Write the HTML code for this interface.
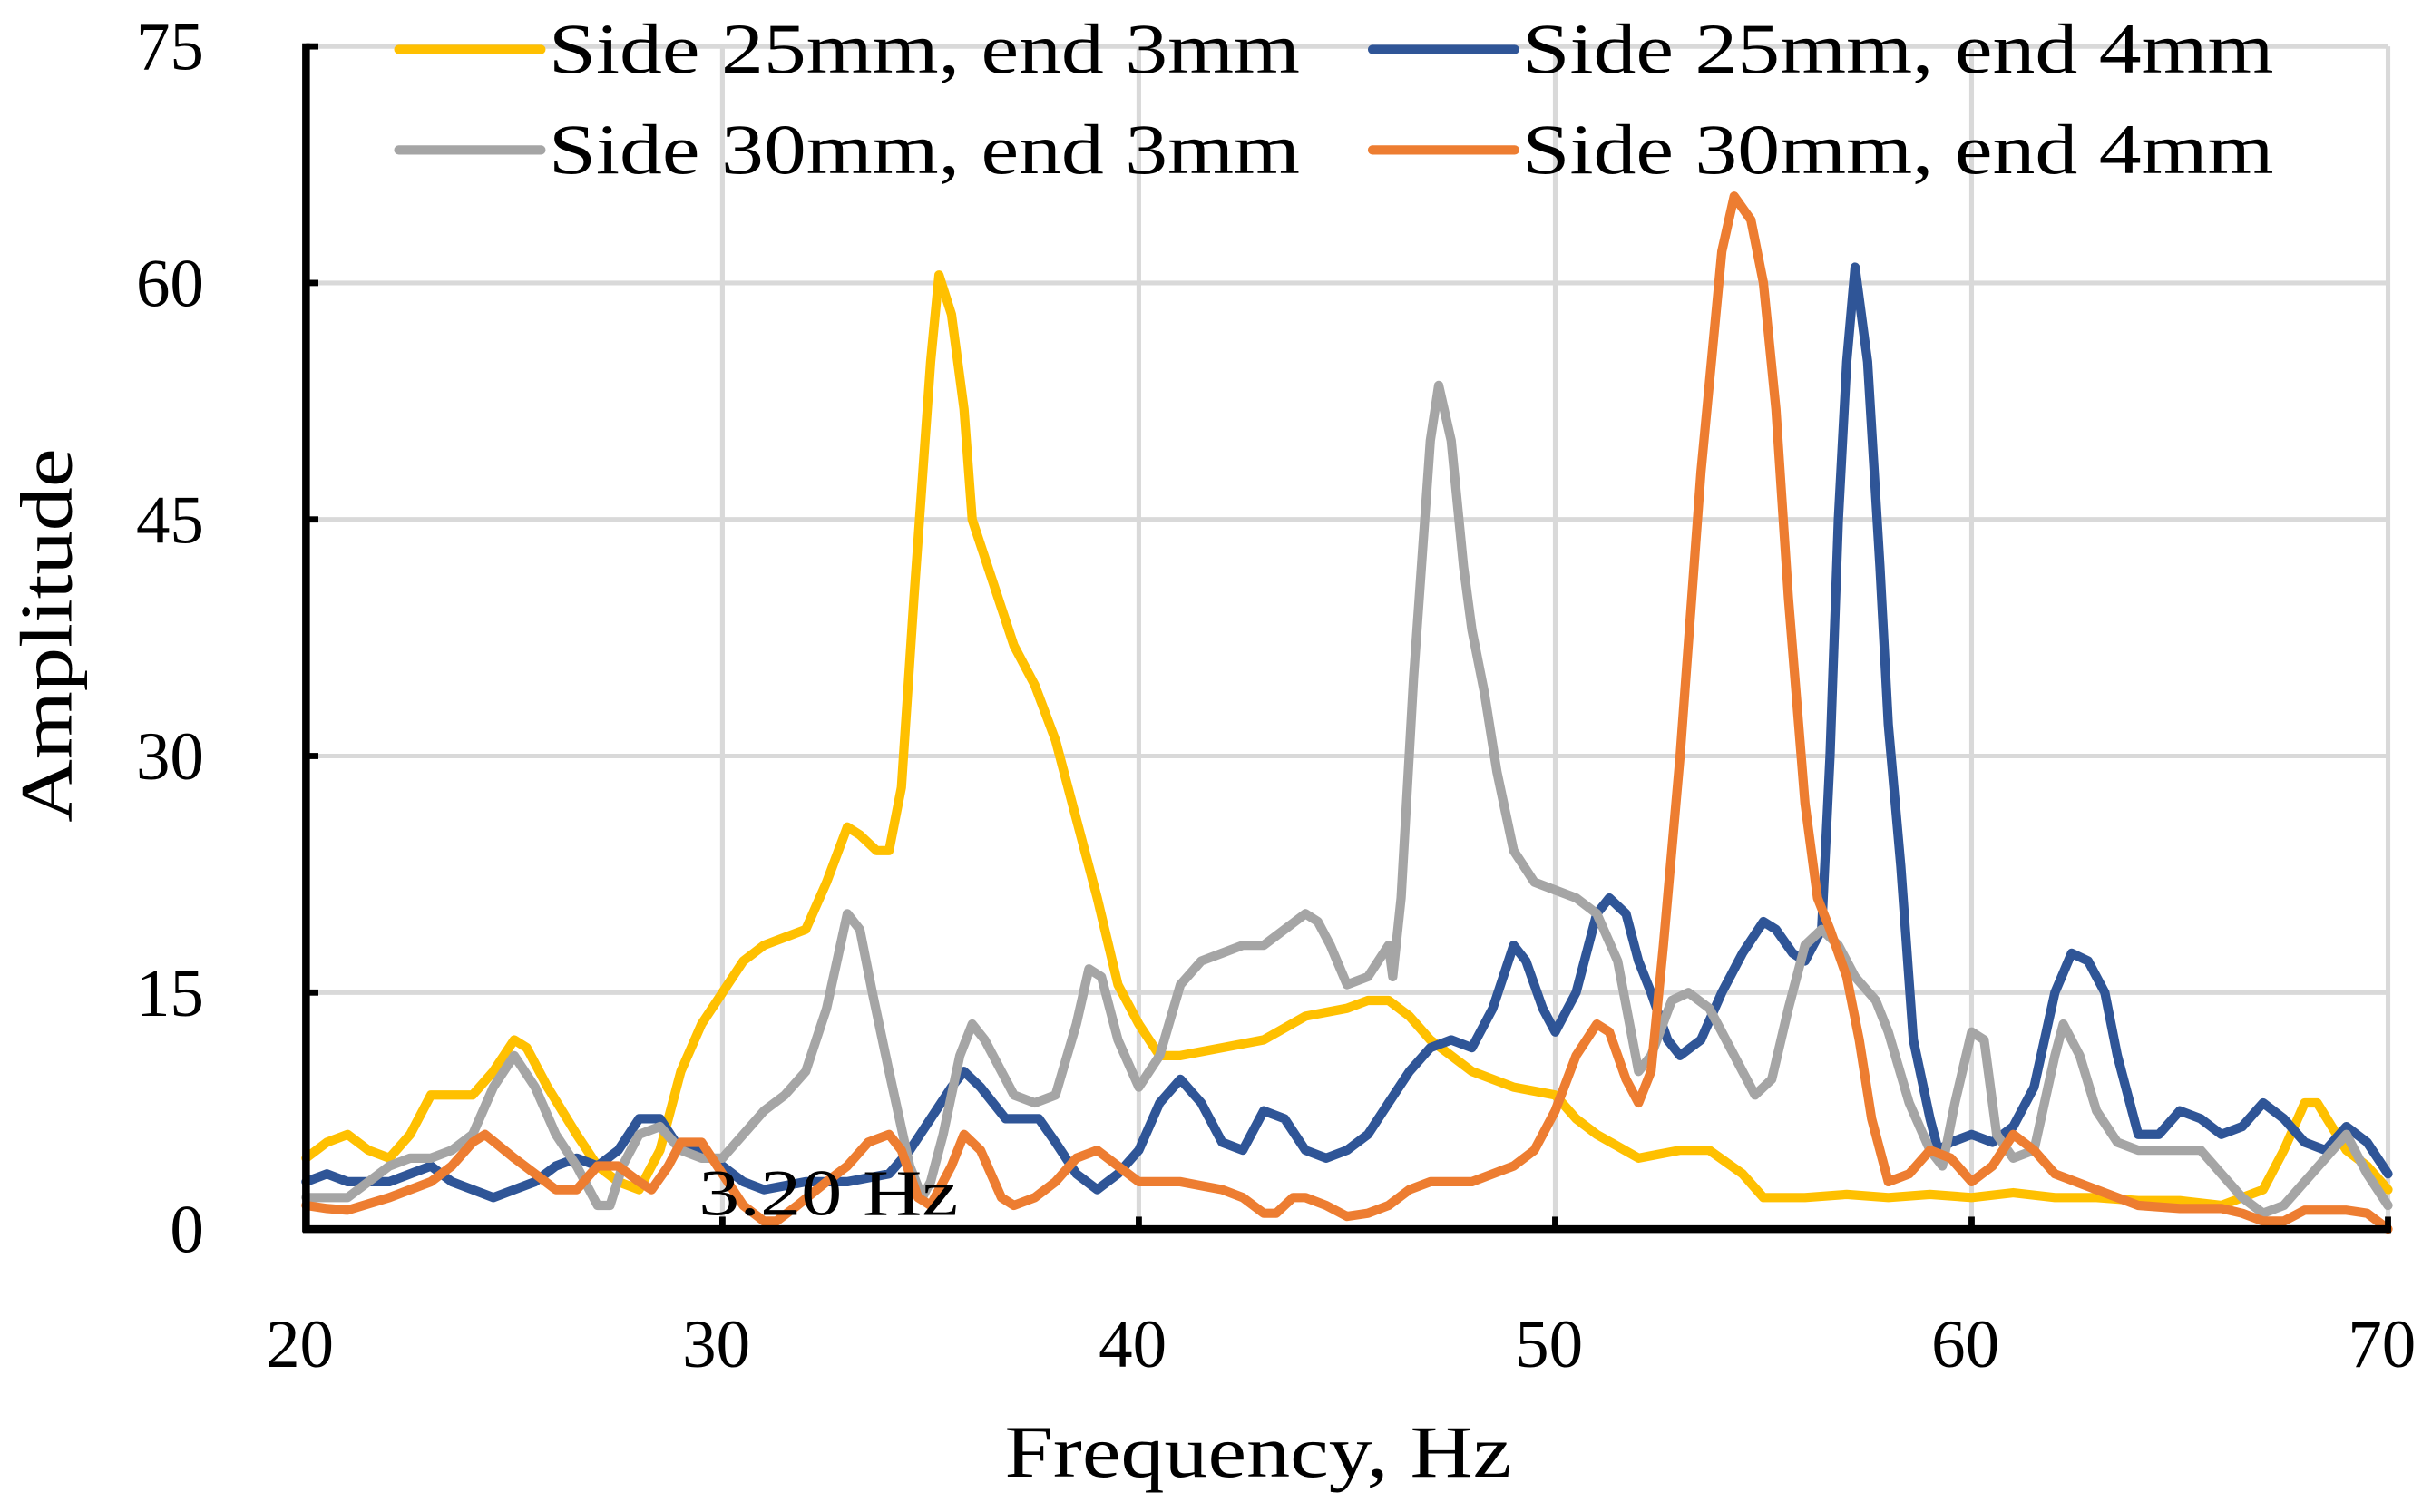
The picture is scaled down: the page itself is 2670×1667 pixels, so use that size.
<!DOCTYPE html>
<html><head><meta charset="utf-8"><style>
html,body{margin:0;padding:0;background:#fff;}
svg{display:block;}
text{font-family:"Liberation Serif",serif;fill:#000;}
</style></head><body>
<svg id="chart" width="2670" height="1667" viewBox="0 0 1567 978" preserveAspectRatio="none" xmlns="http://www.w3.org/2000/svg">
<g id="grid"></g>
<g id="series"></g>
<g id="axes"></g>
<text x="452" y="786" font-size="42" textLength="168" lengthAdjust="spacingAndGlyphs">3.20 Hz</text>
<text x="650" y="955" font-size="48" textLength="328" lengthAdjust="spacingAndGlyphs">Frequency, Hz</text>
<text transform="translate(46,532) rotate(-90)" font-size="48" textLength="242" lengthAdjust="spacingAndGlyphs">Amplitude</text>
<g id="legend"></g>
</svg>
<script>
const xTicks=[20,30,40,50,60,70];
const yTicks=[0,15,30,45,60,75];
const seriesNames=["Side 25mm, end 3mm","Side 25mm, end 4mm","Side 30mm, end 3mm","Side 30mm, end 4mm"];
const fY=[20,20.5,21,21.5,22,22.5,23,23.5,24,24.5,25,25.3,25.8,26.5,27,27.5,28,28.5,29,29.5,30,30.5,31,31.5,32,32.5,33,33.3,33.7,34,34.3,34.6,35,35.2,35.5,35.8,36,36.5,37,37.5,38,38.5,39,39.5,40,40.5,41,42,43,44,45,45.5,46,46.5,47,48,49,50,50.5,51,52,53,53.7,54.5,55,56,57,58,59,60,61,62,63,64,65,66,67,67.5,68,68.3,69,69.5,70];
const aY=[4.5,5.5,6,5,4.5,6,8.5,8.5,8.5,10,12,11.5,9,6,4,3,2.5,5,10,13,15,17,18,18.5,19,22,25.5,25,24,24,28,40,55,60.5,58,52,45,41,37,34.5,31,26,21,15.5,13,11,11,11.5,12,13.5,14,14.5,14.5,13.5,12,10,9,8.5,7,6,4.5,5,5,3.5,2,2,2.2,2,2.2,2,2.3,2,2,1.8,1.8,1.5,2.5,5,8,8,5,4,2.5];
const fB=[20,20.5,21,22,23,23.5,24,24.5,25,25.5,26,26.5,27,27.5,28,28.5,29,29.5,30,30.5,31,32,33,34,34.5,35,35.5,35.8,36.2,36.8,37.3,37.6,38,38.5,39,39.5,40,40.5,41,41.5,42,42.5,43,43.5,44,44.5,45,45.5,46,46.5,47,47.5,48,48.5,49,49.3,49.7,50,50.5,51,51.3,51.7,52,52.3,52.7,53,53.5,54,54.5,55,55.3,55.7,56,56.4,56.6,56.8,57,57.2,57.5,57.8,58,58.3,58.6,59,59.2,59.5,60,60.5,61,61.5,62,62.4,62.8,63.2,63.5,64,64.5,65,65.5,66,66.5,67,67.5,68,68.5,69,69.5,70];
const aB=[3,3.5,3,3,4,3,2.5,2,2.5,3,4,4.5,4,5,7,7,5,5,4,3,2.5,3,3,3.5,5,7,9,10,9,7,7,7,5.5,3.5,2.5,3.5,5,8,9.5,8,5.5,5,7.5,7,5,4.5,5,6,8,10,11.5,12,11.5,14,18,17,14,12.5,15,20,21,20,17,15,12,11,12,15,17.5,19.5,19,17.5,17,19,30,45,55,61,55,42,32,23,12,7,5,5.5,6,5.5,6.5,9,15,17.5,17,15,11,6,6,7.5,7,6,6.5,8,7,5.5,5,6.5,5.5,3.5];
const fG=[20,21,21.5,22,22.5,23,23.5,24,24.5,25,25.5,26,26.5,27,27.3,27.6,28,28.5,29,29.5,30,30.5,31,31.5,32,32.5,33,33.3,33.6,34,34.5,34.8,35,35.3,35.7,36,36.3,36.7,37,37.5,38,38.5,38.8,39.1,39.5,40,40.5,41,41.5,42,42.5,43,43.5,44,44.3,44.6,45,45.5,46,46.1,46.3,46.6,47,47.2,47.5,47.8,48,48.3,48.6,49,49.5,50,50.5,51,51.5,52,52.3,52.8,53.2,53.7,54,54.5,54.8,55.2,55.6,56,56.4,56.8,57.2,57.7,58,58.5,59,59.3,59.6,60,60.3,60.6,61,61.5,62,62.2,62.6,63,63.5,64,65,65.5,66,66.5,67,67.5,68,68.5,69,69.5,70];
const aG=[2,2,3,4,4.5,4.5,5,6,9,11,9,6,4,1.5,1.5,4,6,6.5,5,4.5,4.5,6,7.5,8.5,10,14,20,19,15,10,4,2,3,6,11,13,12,10,8.5,8,8.5,13,16.5,16,12,9,11,15.5,17,17.5,18,18,19,20,19.5,18,15.5,16,18,16,21,35,50,53.5,50,42,38,34,29,24,22,21.5,21,20,17,10,11,14.5,15,14,12.5,10,8.5,9.5,14,18,19,18,16,14.5,12.5,8,5,4,8,12.5,12,6,4.5,5,11,13,11,7.5,5.5,5,5,5,3.5,2,1,1.5,3,4.5,6,3.5,1.5];
const fO=[20,20.5,21,22,23,23.5,24,24.3,25,25.5,26,26.5,27,27.5,28,28.3,28.7,29,29.5,30,30.5,31,31.3,31.8,32.5,33,33.5,34,34.3,34.7,35,35.5,35.8,36.2,36.7,37,37.5,38,38.5,39,39.5,40,41,42,42.5,43,43.3,43.7,44,44.5,45,45.5,46,46.5,47,48,48.5,49,49.5,50,50.5,51,51.3,51.7,52,52.3,52.6,53,53.5,54,54.3,54.7,55,55.3,55.6,56,56.3,56.6,57,57.3,57.6,58,58.5,59,59.5,60,60.5,61,61.5,62,63,64,65,66,66.5,67,67.5,68,69,69.5,70];
const aO=[1.5,1.3,1.2,2,3,4,5.5,6,4.5,3.5,2.5,2.5,4,4,3,2.5,4,5.5,5.5,3.5,1.5,0.5,0.5,1.5,3,4,5.5,6,5,2,1.5,4,6,5,2,1.5,2,3,4.5,5,4,3,3,2.5,2,1,1,2,2,1.5,0.8,1,1.5,2.5,3,3,3.5,4,5,7.5,11,13,12.5,9.5,8,10,18,30,48,62,65.5,64,60,52,40,27,21,19,16,12,7,3,3.5,5,4.5,3,4,6,5,3.5,2.5,1.5,1.3,1.3,1,0.5,0.5,1.2,1.2,1,0];
const colors=["#FFC000","#2F5597","#A5A5A5","#ED7D31"];

const X0=198,X1=1545,Y0=795,Y1=30;
function sx(f){return X0+(f-20)/(70-20)*(X1-X0);}
function sy(a){return Y0-a/75*(Y0-Y1);}
const NS="http://www.w3.org/2000/svg";
function mk(tag,attrs,parent){const e=document.createElementNS(NS,tag);for(const k in attrs)e.setAttribute(k,attrs[k]);parent.appendChild(e);return e;}
const grid=document.getElementById('grid'),axes=document.getElementById('axes'),ser=document.getElementById('series'),leg=document.getElementById('legend');
yTicks.forEach(t=>{if(t===0)return;
 const l=mk('line',{x1:X0,x2:X1,y1:sy(t),y2:sy(t),stroke:'#d9d9d9','stroke-width':3},grid);
 
 });
xTicks.forEach(t=>{if(t===20)return;
 const l=mk('line',{x1:sx(t),x2:sx(t),y1:Y1,y2:Y0,stroke:'#d9d9d9','stroke-width':3},grid);
 
 });
const fs=[fY,fB,fG,fO],as=[aY,aB,aG,aO],ids=['yellow','blue','gray','orange'];
fs.forEach((f,i)=>{
 const pts=f.map((v,j)=>sx(v).toFixed(1)+','+sy(as[i][j]).toFixed(1)).join(' ');
 const p=mk('polyline',{points:pts,fill:'none',stroke:colors[i],'stroke-width':6,'stroke-linejoin':'round','stroke-linecap':'round'},ser);
 
 });
const ya=mk('line',{x1:X0,x2:X0,y1:Y1-2,y2:Y0+2,stroke:'#000','stroke-width':5},axes);


const xa=mk('line',{x1:X0-2,x2:X1+2,y1:Y0,y2:Y0,stroke:'#000','stroke-width':5},axes);


yTicks.forEach(t=>{
 const tk=mk('line',{x1:X0,x2:X0+8,y1:sy(t),y2:sy(t),stroke:'#000','stroke-width':4},axes);
 
 
 const tx=mk('text',{x:132,y:sy(t)+15,'font-size':44,'text-anchor':'end'},axes);tx.textContent=t;
 
 });
xTicks.forEach(t=>{
 const tk=mk('line',{x1:sx(t),x2:sx(t),y1:Y0-8,y2:Y0,stroke:'#000','stroke-width':4},axes);
 
 
 const tx=mk('text',{x:sx(t)-4,y:884,'font-size':44,'text-anchor':'middle'},axes);tx.textContent=t;
 
 });
const lp=[[258,32],[888,32],[258,97],[888,97]];
seriesNames.forEach((n,i)=>{
 const g=mk('g',{},leg);
 
 
 mk('line',{x1:lp[i][0],x2:lp[i][0]+92,y1:lp[i][1],y2:lp[i][1],stroke:colors[i],'stroke-width':6,'stroke-linecap':'round'},g);
 const tx=mk('text',{x:lp[i][0]+97,y:lp[i][1]+15,'font-size':46,textLength:486,lengthAdjust:'spacingAndGlyphs'},g);tx.textContent=n;});
</script>
</body></html>
